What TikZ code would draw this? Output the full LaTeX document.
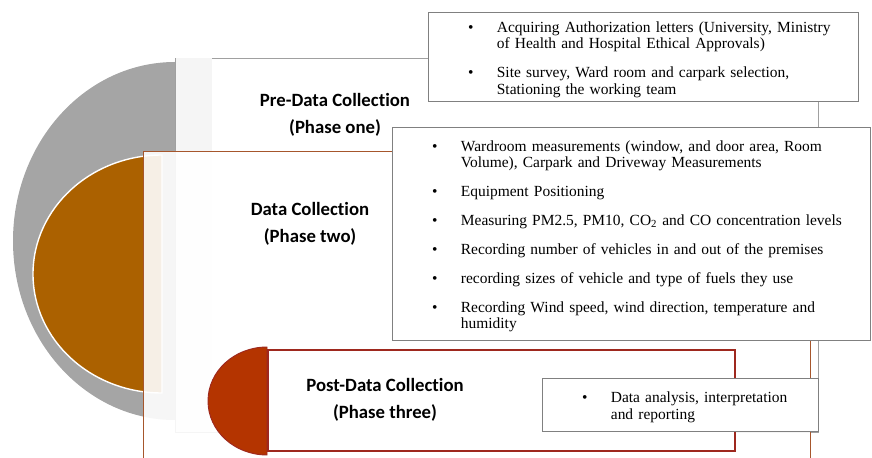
\documentclass[tikz,border=0pt]{standalone}
\usepackage{fontspec}
\setmainfont{Liberation Serif}
\newfontfamily\labelfont[Ligatures=NoCommon]{Carlito}
\usepackage{enumitem}
\usetikzlibrary{fit}

\definecolor{discgray}{RGB}{165,165,165}
\definecolor{discbrown}{RGB}{171,97,0}
\definecolor{discred}{RGB}{180,52,0}
\definecolor{edgebrown}{RGB}{166,86,44}
\definecolor{edgered}{RGB}{158,40,30}
\definecolor{edgegray}{RGB}{128,128,128}
\definecolor{framegray}{RGB}{160,160,160}

\newlist{points}{itemize}{1}
\setlist[points]{label=\textbullet, leftmargin=59pt, labelsep=20pt, itemsep=10.6pt, parsep=0pt, topsep=0pt, partopsep=0pt}

\begin{document}
\begin{tikzpicture}[x=0.03cm, y=0.03cm, yscale=-1,
    listbox/.style={draw=edgegray, fill=white, inner sep=0pt, line width=0.8pt},
    listtext/.style={anchor=west, inner sep=0pt, font=\fontsize{13.2}{14.1}\selectfont},
    phaselabel/.style={font=\labelfont\bfseries\fontsize{16}{23}\selectfont, align=center}]
    \useasboundingbox (0,0) rectangle (872,458);
    \clip (0,0) rectangle (872,458);
    % Phase one
    \fill[discgray] (175,62) arc[start angle=270, end angle=90, x radius=162, y radius=179] -- cycle;
    \node (pre) [fit={(175,58) (818,432)}, inner sep=0pt, draw=framegray, fill=white, line width=0.8pt] {};
    \fill[black!4] (175.5,58.5) rectangle (212,431.5);
    % Phase two
    \filldraw[fill=discbrown, draw=white, line width=1.2pt] (162,155) arc[start angle=270, end angle=90, x radius=129, y radius=119] -- cycle;
    \node (data) [fit={(143,151) (810,470)}, inner sep=0pt, draw=edgebrown, fill=white, fill opacity=0.9, line width=0.8pt] {};
    % Phase three
    \filldraw[fill=discred, draw=edgered, line width=0.8pt] (267,347) arc[start angle=270, end angle=90, x radius=59, y radius=54] -- cycle;
    \node (post) [fit={(268,350) (735,451)}, inner sep=0pt, draw=edgered, fill=white, line width=1.2pt] {};
    % Labels
    \node (prelabel) [phaselabel] at (335,114.5) {Pre-Data Collection\\(Phase one)};
    \node (datalabel) [phaselabel] at (310,223.5) {Data Collection\\(Phase two)};
    \node (postlabel) [phaselabel] at (385,400) {Post-Data Collection\\(Phase three)};
    % Task boxes
    \node (tasksA) [listbox, fit={(428,12) (858,101)}] {};
    \node (tasksB) [listbox, fit={(392,127) (870,340)}] {};
    \node (tasksC) [listbox, fit={(542,378) (818,431)}] {};
    \node (listA) [listtext, text width=365pt] at (tasksA.west) {%
      \begin{points}
        \item Acquiring Authorization letters (University, Ministry\\of Health and Hospital Ethical Approvals)
        \item Site survey, Ward room and carpark selection,\\Stationing the working team
      \end{points}};
    \node (listB) [listtext, text width=405pt] at (tasksB.west) {%
      \begin{points}
        \item Wardroom measurements (window, and door area, Room\\Volume), Carpark and Driveway Measurements
        \item Equipment Positioning
        \item Measuring PM2.5, PM10, CO\textsubscript{2} and CO concentration levels
        \item Recording number of vehicles in and out of the premises
        \item recording sizes of vehicle and type of fuels they use
        \item Recording Wind speed, wind direction, temperature and\\humidity
      \end{points}};
    \node (listC) [listtext, text width=235pt] at (tasksC.west) {%
      \begin{points}
        \item Data analysis, interpretation\\and reporting
      \end{points}};
\end{tikzpicture}
\end{document}
